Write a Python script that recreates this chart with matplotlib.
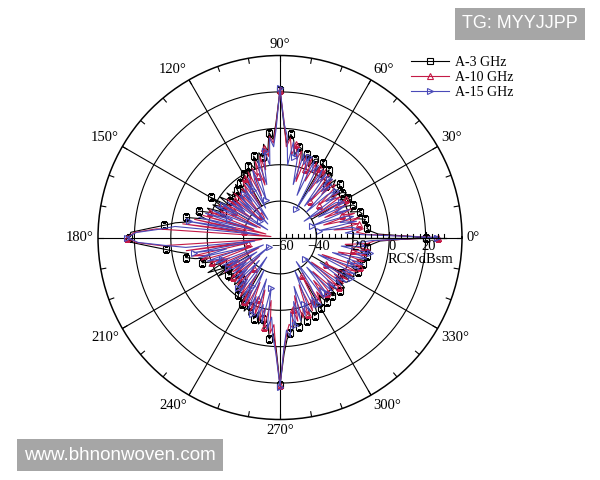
import numpy as np
import matplotlib
matplotlib.use("Agg")
import matplotlib.pyplot as plt

plt.rcParams['font.family'] = ['Liberation Serif', 'DejaVu Serif']

# ---------------- data ----------------
angles_deg = np.arange(0, 360, 2)

rcs_3ghz = [
    20, -6, -10, -12, -11, -14, -12, -17, -13, -14, -19, -15, -16, -22, -16,
    -17, -21, -16, -18, -24, -17, -16, -20, -16, -22, -15, -18, -14, -20, -14,
    -13, -19, -12, -13, -18, -12, -12, -16, -10, -9, -14, -6, -3, -8, 2,
    21, 3, -6, -2, -12, -8, -15, -12, -18, -13, -20, -16, -17, -24, -19,
    -20, -26, -21, -23, -29, -22, -25, -30, -24, -27, -22, -29, -26, -20, -28,
    -16, -24, -19, -26, -17, -20, -13, -12, -18, -7, -10, -2, 4, 12, 22,
    23, 21, 11, 3, -3, -9, -7, -12, -19, -15, -21, -18, -26, -16, -23,
    -27, -20, -29, -25, -28, -23, -30, -26, -24, -29, -22, -27, -21, -19, -25,
    -18, -22, -15, -19, -14, -17, -13, -18, -11, -14, -9, -12, -4, -7, 1,
    21, 4, -4, -7, -9, -13, -10, -12, -17, -12, -13, -18, -13, -14, -20,
    -15, -16, -22, -16, -17, -21, -17, -16, -23, -16, -17, -15, -20, -16, -15,
    -21, -14, -15, -13, -18, -13, -12, -16, -12, -11, -15, -11, -12, -9, -5,
]

rcs_10ghz = [
    27, -12, -18, -14, -30, -16, -22, -15, -35, -17, -24, -18, -33, -19, -26,
    -18, -38, -20, -25, -19, -32, -21, -18, -27, -17, -34, -16, -22, -15, -30,
    -16, -21, -14, -26, -13, -20, -12, -28, -11, -16, -8, -14, -5, -10, 4,
    21, 2, -8, -4, -15, -10, -22, -14, -30, -16, -24, -19, -35, -20, -28,
    -22, -40, -24, -30, -26, -44, -27, -33, -25, -46, -28, -34, -24, -42, -26,
    -31, -22, -48, -24, -28, -19, -45, -16, -52, -12, -40, -6, -55, 8, 20,
    24, 19, 5, -50, -8, -42, -11, -20, -15, -44, -20, -30, -23, -47, -26,
    -33, -24, -41, -28, -35, -26, -45, -27, -32, -25, -38, -23, -29, -21, -36,
    -20, -27, -18, -33, -16, -24, -15, -30, -13, -20, -10, -25, -7, -12, 3,
    21, 2, -7, -12, -10, -20, -13, -27, -14, -19, -15, -32, -16, -22, -17,
    -36, -18, -24, -19, -30, -20, -18, -34, -19, -25, -18, -38, -17, -24, -16,
    -31, -15, -21, -14, -35, -13, -18, -12, -27, -11, -19, -10, -24, -12, -8,
]

rcs_15ghz = [
    26, -15, -24, -16, -20, -38, -17, -26, -18, -22, -41, -19, -27, -20, -36,
    -21, -24, -44, -22, -28, -20, -25, -40, -19, -26, -18, -38, -17, -24, -16,
    -42, -15, -20, -14, -35, -13, -18, -12, -30, -10, -15, -7, -20, -4, 3,
    22, 0, -10, -5, -20, -12, -18, -30, -16, -25, -38, -20, -26, -42, -23,
    -30, -25, -48, -27, -35, -29, -50, -28, -38, -30, -46, -27, -36, -25, -52,
    -24, -33, -21, -46, -20, -30, -17, -44, -14, -35, -9, -48, -2, 6, 19,
    24, 18, 3, -8, -46, -12, -30, -14, -40, -18, -26, -22, -50, -25, -34,
    -27, -45, -29, -37, -28, -52, -27, -35, -26, -43, -24, -31, -22, -47, -21,
    -29, -19, -40, -17, -25, -15, -36, -14, -22, -12, -32, -9, -16, -5, 4,
    22, 1, -9, -5, -18, -11, -24, -13, -32, -15, -21, -16, -40, -17, -23,
    -18, -28, -44, -19, -25, -20, -38, -19, -24, -18, -42, -17, -23, -16, -34,
    -15, -21, -14, -37, -13, -19, -12, -30, -11, -17, -10, -26, -12, -18, -10,
]

series_names = ["A-3 GHz", "A-10 GHz", "A-15 GHz"]
angle_labels = ["0°", "30°", "60°", "90°", "120°", "150°",
                "180°", "210°", "240°", "270°", "300°", "330°"]
angle_label_pos = [0, 30, 60, 90, 120, 150, 180, 210, 240, 270, 300, 330]
r_tick_values = [-60, -40, -20, 0, 20]
r_tick_labels = ["\u221260", "\u221240", "\u221220", "0", "20"]

R_MIN, R_MAX = -60, 40

# ---------------- figure ----------------
fig = plt.figure(figsize=(6, 4.8), dpi=100)
cx, cy, rad = 280, 237.5, 182
pos = [(cx - rad) / 600, (480 - cy - rad) / 480, 2 * rad / 600, 2 * rad / 480]
ax = fig.add_axes(pos, projection='polar')
ax.set_theta_zero_location('E')
ax.set_theta_direction(1)
ax.set_rlim(R_MIN, R_MAX)
ax.grid(False)
ax.set_xticks([])
ax.set_yticks([])
ax.spines['polar'].set_color('black')
ax.spines['polar'].set_linewidth(1.1)

gc = 'black'
glw = 0.8
full = np.linspace(0, 2 * np.pi, 400)
for rv in [-40, -20, 0, 20]:
    ax.plot(full, np.full_like(full, rv), color=gc, lw=glw, zorder=1)
for a in range(0, 360, 30):
    t = np.deg2rad(a)
    r0 = R_MIN if a % 90 == 0 else -40
    ax.plot([t, t], [r0, R_MAX], color=gc, lw=glw, zorder=1)
for a in range(0, 360, 10):
    t = np.deg2rad(a)
    ax.plot([t, t], [R_MAX - 2.8, R_MAX], color=gc, lw=glw, zorder=1)

for a, lab in zip(angle_label_pos, angle_labels):
    t = np.deg2rad(a)
    c, s = np.cos(t), np.sin(t)
    ha = 'left' if c > 0.1 else ('right' if c < -0.1 else 'center')
    va = 'bottom' if s > 0.1 else ('top' if s < -0.1 else 'center')
    ax.annotate(lab, xy=(t, R_MAX), xytext=(3 * c, 3 * s),
                textcoords='offset points', ha=ha, va=va, fontsize=10.5,
                annotation_clip=False)

theta = np.deg2rad(np.append(angles_deg, 360))
def closed(v):
    return np.append(v, v[0])

ax.plot(theta, closed(rcs_3ghz), color='black', lw=0.8, marker='s',
        markersize=4.8, markerfacecolor='none', markeredgewidth=0.8,
        markevery=3, label=series_names[0], zorder=3)
ax.plot(theta, closed(rcs_10ghz), color='#c41a46', lw=0.8, marker='^',
        markersize=5, markerfacecolor='none', markeredgewidth=0.8,
        markevery=5, label=series_names[1], zorder=4)
ax.plot(theta, closed(rcs_15ghz), color='#4a4ab8', lw=0.8, marker='>',
        markersize=5, markerfacecolor='none', markeredgewidth=0.8,
        markevery=5, label=series_names[2], zorder=5)

# overlay for radial scale along 0 deg
ov = fig.add_axes(pos)
ov.set_xlim(-(R_MAX - R_MIN), R_MAX - R_MIN)
ov.set_ylim(-(R_MAX - R_MIN), R_MAX - R_MIN)
ov.axis('off')
ov.patch.set_alpha(0)
ov.plot([0, 31 - R_MIN], [0, 0], color='black', lw=0.9, zorder=6)
step = 20 / 6
for k in range(28):
    v = R_MIN + k * step
    h = 2.8 if k % 6 == 0 else 1.8
    ov.plot([v - R_MIN, v - R_MIN], [0, h], color='black', lw=0.8, zorder=6)
for rv, lab in zip(r_tick_values, r_tick_labels):
    ov.text(rv - R_MIN + 1.5, -1.2, lab, ha='center', va='top', fontsize=10.5, zorder=7)
ov.text(77, -8.5, "RCS/dBsm", ha='center', va='top', fontsize=10.5, zorder=7)

fig.legend(loc='upper left', bbox_to_anchor=(405 / 600, 1 - 50 / 480),
           frameon=False, fontsize=10, handlelength=2.8,
           labelspacing=0.15, handletextpad=0.4, borderaxespad=0)

fig.text(520 / 600, 1 - 24 / 480, "TG: MYYJJPP", ha='center', va='center',
         color='white', fontsize=13, family='Liberation Sans',
         bbox=dict(boxstyle='square,pad=0.4', fc='#a6a6a6', ec='none'))
fig.text(120 / 600, 1 - 455 / 480, "www.bhnonwoven.com", ha='center', va='center',
         color='white', fontsize=13.5, family='Liberation Sans',
         bbox=dict(boxstyle='square,pad=0.4', fc='#a6a6a6', ec='none'))

fig.savefig("out.png", dpi=100)
